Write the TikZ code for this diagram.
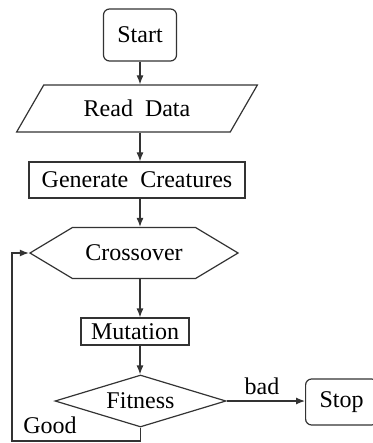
\documentclass[tikz,border=0pt]{standalone}
\usepackage{fontspec}
\setmainfont{Liberation Serif}
\usetikzlibrary{shapes.geometric, shapes.symbols, arrows.meta}

\begin{document}
\begin{tikzpicture}[x=0.5pt, y=-0.5pt, font=\fontsize{12}{14}\selectfont,
line/.style={draw=black!80, line width=0.6pt},
arr/.style={line, -{Latex[length=4.5pt, width=3.5pt]}},
term/.style={line, rounded corners=3pt, minimum height=23pt},
proc/.style={line, minimum height=18pt},
io/.style={line, trapezium, trapezium left angle=60, trapezium right angle=120, minimum width=89pt, minimum height=23.5pt},
op/.style={line, signal, signal to=west and east, signal pointer angle=62, minimum width=104pt, minimum height=25.5pt},
test/.style={line, diamond, aspect=3.3, inner sep=1pt, minimum width=85.5pt, minimum height=26pt}]
\useasboundingbox (0,0) rectangle (372,443);

%Flow
\node[term, minimum width=36.5pt, minimum height=26pt] at (140,35) (start) {Start};
\node[io] at (137,108.5) (read) {Read~~Data};
\node[proc, minimum width=108pt] at (137,180) (gen) {Generate~~Creatures};
\node[op] at (134,253) (cross) {Crossover};
\node[proc, minimum width=54pt, minimum height=13.5pt, inner ysep=1pt] at (135,331.5) (mut) {Mutation};
\node[test] at (140.5,401) (fit) {Fitness};
\node[term, minimum width=36pt, anchor=west] at (305,402) (stop) {Stop};

%Labels
\node at (262,386) (bad) {bad};
\node at (50,425) (good) {Good};

%Arrows
\draw[arr] (start.south) -- (start.south |- read.north);
\draw[arr] (read.south -| start) -- (gen.north -| start);
\draw[arr] (gen.south -| start) -- (cross.north -| start);
\draw[arr] (cross.south -| start) -- (mut.north -| start);
\draw[arr] (mut.south -| start) -- (fit.north -| start);
\draw[arr] (fit.east) -- (fit.east -| stop.west);

%Loop back
\coordinate (corner) at (12,441);
\draw[arr] (fit.south) |- (corner) |- (cross.west);
\end{tikzpicture}
\end{document}
